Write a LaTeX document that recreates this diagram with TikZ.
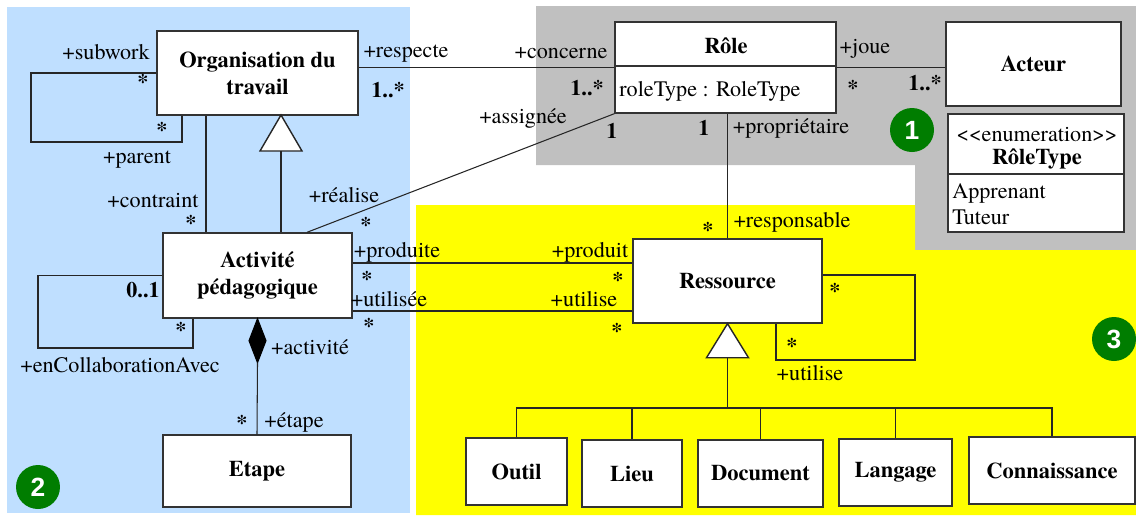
\documentclass[tikz,border=0pt]{standalone}
\usepackage{fontspec}
\setmainfont{texgyretermes}[Extension=.otf, UprightFont=*-regular, BoldFont=*-bold,
    ItalicFont=*-italic, BoldItalicFont=*-bolditalic]
\newfontfamily\badgefont{Liberation Sans}
\usepackage{tikz}
\usepackage{xcolor}
\usetikzlibrary{positioning}

\definecolor{bluepanel}{RGB}{191,223,255}
\definecolor{graypanel}{RGB}{192,192,192}
\definecolor{yellowpanel}{RGB}{255,255,0}
\definecolor{badgegreen}{RGB}{0,125,0}

\tikzset{
    cls/.style={draw=black!80, fill=white, line width=0.8pt, align=center,
        inner sep=2pt, font=\rmfamily\fontsize{12.8}{15.3}\selectfont\bfseries},
    lbl/.style={inner sep=0pt},
    mult/.style={inner sep=0pt, font=\rmfamily\fontsize{12.6}{15}\selectfont\bfseries},
    assoc/.style={line width=0.6pt, draw=black!85},
    gen/.style={line width=0.8pt, draw=black!85, fill=white},
    badge/.style={circle, fill=badgegreen, text=white, minimum size=0.88cm,
        inner sep=0pt, font=\badgefont\fontsize{15}{18}\selectfont\bfseries}
}

\begin{document}
\begin{tikzpicture}[x=0.02cm, y=-0.02cm, font=\rmfamily\fontsize{12.6}{15}\selectfont]
    \useasboundingbox (0,0) rectangle (1136,515);

    % panels
    \fill[bluepanel] (7,7) rectangle (410,513);
    \fill[graypanel] (536,6) -- (1136,6) -- (1136,250) -- (915,250) -- (915,165) -- (536,165) -- cycle;
    \fill[yellowpanel] (416,205) -- (915,205) -- (915,250) -- (1136,250) -- (1136,515) -- (416,515) -- cycle;

    % classes
    \node[cls, minimum width=4.02cm, minimum height=1.68cm] (org) at (257.5,73) {Organisation du\\travail};
    \node[cls, minimum width=4.42cm, minimum height=1.82cm] (role) at (725.5,67.5) {};
    \draw[line width=0.8pt, black!80] (615,66) -- (836,66);
    \node[lbl, font=\rmfamily\fontsize{12.8}{15}\selectfont\bfseries] (roletitle) at (726,46) {Rôle};
    \node[lbl, anchor=west] (roleattr) at (619,91) {roleType : RoleType};
    \node[cls, minimum width=3.5cm, minimum height=1.68cm] (acteur) at (1033.5,64) {Acteur};
    \node[cls, minimum width=3.52cm, minimum height=2.36cm] (enum) at (1036,173) {};
    \draw[line width=0.8pt, black!80] (948,174) -- (1124,174);
    \node[lbl] (enumst) at (1037,135) {<\kern0pt<enumeration>\kern0pt>};
    \node[lbl, font=\rmfamily\fontsize{12.8}{15}\selectfont\bfseries] (enumtitle) at (1037,159) {RôleType};
    \node[lbl, anchor=west] (enumA) at (952,193) {Apprenant};
    \node[lbl, anchor=west] (enumT) at (952,217) {Tuteur};

    \node[cls, minimum width=3.78cm, minimum height=1.7cm] (act) at (257.5,275.5) {Activité\\pédagogique};
    \node[cls, minimum width=3.76cm, minimum height=1.44cm] (etape) at (257,471) {Etape};
    \node[cls, minimum width=3.78cm, minimum height=1.68cm] (res) at (727.5,281) {Ressource};

    \node[cls, minimum width=2.02cm, minimum height=1.34cm] (outil) at (516.5,471.5) {Outil};
    \node[cls, minimum width=2.0cm, minimum height=1.34cm] (lieu) at (632,473.5) {Lieu};
    \node[cls, minimum width=2.5cm, minimum height=1.34cm] (doc) at (760.5,473.5) {Document};
    \node[cls, minimum width=2.26cm, minimum height=1.34cm] (lang) at (895.5,472.5) {Langage};
    \node[cls, minimum width=3.32cm, minimum height=1.34cm] (conn) at (1052,470.5) {Connaissance};

    % helper points
    \coordinate (ol) at (31,142);
    \coordinate (ol2) at (182,142);
    \coordinate (ocon) at (206,0);
    \coordinate (ogen) at (281,115);
    \coordinate (obase) at (281,151);
    \coordinate (areal) at (307,0);
    \coordinate (yprod) at (0,263);
    \coordinate (yutil) at (0,311);
    \coordinate (al) at (38,348);
    \coordinate (al2) at (193,348);
    \coordinate (rl1) at (915,275);
    \coordinate (rl2) at (776,360);
    \coordinate (rbase) at (727.5,357);
    \coordinate (rbus) at (727.5,408);

    % associations
    \draw[assoc] (org.west) -| (ol) -| (org.south -| ol2);
    \draw[assoc] (org.south -| ocon) -- (act.north -| ocon);
    \draw[gen] (ogen) -- ++(-21,36) -- ++(42,0) -- cycle;
    \draw[assoc] (obase) -- (act.north -| obase);
    \draw[assoc] (role.west) -- (role.west -| org.east);
    \draw[assoc] (role.east) -- (role.east -| acteur.west);
    \draw[assoc] (role.south west) -- (act.north -| areal);
    \draw[assoc] (res.north) -- (res.north |- role.south);
    \draw[assoc] (act.east |- yprod) -- (res.west |- yprod);
    \draw[assoc] (act.east |- yutil) -- (res.west |- yutil);
    \draw[assoc] (act.west) -| (al) -| (act.south -| al2);
    \draw[assoc] (res.east |- rl1) -- (rl1) |- (rl2) -- (res.south -| rl2);
    \draw[line width=0.6pt, fill=black] (act.south) -- ++(8.5,22) -- ++(-8.5,22) -- ++(-8.5,-22) -- cycle;
    \draw[assoc] (act.south) ++(0,44) -- (etape.north);

    % generalisation of Ressource
    \draw[gen] (res.south) -- ++(-21,34) -- ++(42,0) -- cycle;
    \draw[assoc] (rbase) -- (rbus);
    \draw[assoc] (outil.north) |- (conn.north |- rbus) -- (conn.north);
    \foreach \c in {lieu, doc, lang}
        \draw[assoc] (\c.north) -- (\c.north |- rbus);

    % role names and multiplicities
    \node[lbl] (lsub) at (106,52) {+subwork};
    \node[mult] (msub1) at (143,82) {*};
    \node[mult] (msub2) at (162,130) {*};
    \node[lbl] (lpar) at (137,159) {+parent};
    \node[lbl] (lcon) at (153,201) {+contraint};
    \node[mult] (mcon) at (191,223) {*};
    \node[lbl] (lrea) at (344,195) {+réalise};
    \node[mult] (mrea) at (366,225) {*};
    \node[lbl] (lresp) at (406,53) {+respecte};
    \node[mult] (mresp) at (388,90) {1..*};
    \node[lbl] (lconc) at (561,53) {+concerne};
    \node[mult] (mconc) at (587,88) {1..*};
    \node[lbl] (lass) at (523,118) {+assignée};
    \node[mult] (mass) at (612,131) {1};
    \node[mult] (mprop) at (704,128) {1};
    \node[lbl] (lprop) at (791,128) {+propriétaire};
    \node[lbl] (ljoue) at (865,49) {+joue};
    \node[mult] (mjoue1) at (853,88) {*};
    \node[mult] (mjoue2) at (925,83) {1..*};
    \node[mult] (mresp2) at (708,230) {*};
    \node[lbl] (lresp2) at (792,222) {+responsable};
    \node[lbl] (lprod1) at (397,252) {+produite};
    \node[mult] (mprod1) at (367,279) {*};
    \node[lbl] (lprod2) at (590,252) {+produit};
    \node[mult] (mprod2) at (618,280) {*};
    \node[lbl] (lutil1) at (389,299) {+utilisée};
    \node[mult] (mutil1) at (369,326) {*};
    \node[lbl] (lutil2) at (584,299) {+utilise};
    \node[mult] (mutil2) at (617,331) {*};
    \node[mult] (mrl1) at (835,291) {*};
    \node[mult] (mrl2) at (792,346) {*};
    \node[lbl] (lrl) at (810,373) {+utilise};
    \node[mult] (mal1) at (143,290) {0..1};
    \node[mult] (mal2) at (181,330) {*};
    \node[lbl] (lal) at (120,365) {+enCollaborationAvec};
    \node[lbl] (lact) at (310,347) {+activité};
    \node[mult] (metp) at (242,423) {*};
    \node[lbl] (letp) at (294,422) {+étape};

    % badges
    \node[badge] (b1) at (912,130) {1};
    \node[badge] (b2) at (38,487) {2};
    \node[badge] (b3) at (1114,339) {3};
\end{tikzpicture}
\end{document}
